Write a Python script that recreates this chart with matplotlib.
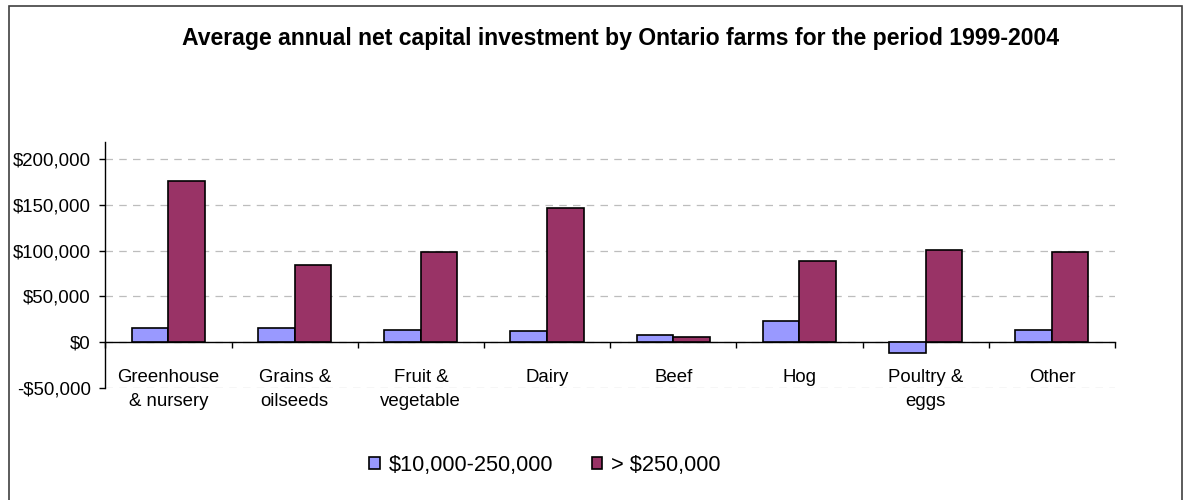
import matplotlib
matplotlib.use("Agg")
import matplotlib.pyplot as plt
from matplotlib.patches import Patch, Rectangle
from matplotlib.ticker import FuncFormatter, FixedLocator
import numpy as np

categories = ["Greenhouse\n& nursery", "Grains &\noilseeds", "Fruit &\nvegetable",
              "Dairy", "Beef", "Hog", "Poultry &\neggs", "Other"]
small_farms = [15300, 15300, 13100, 11700, 8000, 23700, -12000, 13500]
large_farms = [175600, 84500, 98400, 146000, 5800, 88900, 100900, 98400]
series_names = ["$10,000-250,000", "> $250,000"]
y_ticks = [-50000, 0, 50000, 100000, 150000, 200000]
title = "Average annual net capital investment by Ontario farms for the period 1999-2004"

color_small = "#9999FF"
color_large = "#993366"

plt.rcParams["font.family"] = ["Liberation Sans", "DejaVu Sans"]

W, H = 1183, 500
fig = plt.figure(figsize=(W / 100, H / 100), dpi=100)
fig.patch.set_facecolor("white")

ax = fig.add_axes([105.3 / W, 1 - 388 / H, (1115 - 105.3) / W, (388 - 142) / H])

x = np.arange(len(categories))
bw = 0.29
ax.bar(x - bw / 2, small_farms, width=bw, color=color_small, edgecolor="black",
       linewidth=1.2, zorder=3)
ax.bar(x + bw / 2, large_farms, width=bw, color=color_large, edgecolor="black",
       linewidth=1.2, zorder=3)

ax.set_xlim(-0.5, len(categories) - 0.5)
ax.set_ylim(-50000, 218600)
ax.set_yticks(y_ticks)
ax.yaxis.set_major_formatter(FuncFormatter(
    lambda v, p: ("-$" if v < 0 else "$") + f"{abs(int(v)):,}"))

ax.grid(axis="y", color="#bdbdbd", linestyle=(0, (6, 5)), linewidth=0.9, zorder=0)
ax.set_axisbelow(True)

for side in ("top", "right"):
    ax.spines[side].set_visible(False)
ax.spines["bottom"].set_position(("data", 0))
ax.spines["bottom"].set_linewidth(1.0)
ax.spines["left"].set_linewidth(1.0)

ax.set_xticks(x)
ax.set_xticklabels(categories, fontsize=13.4, linespacing=1.55)
ax.xaxis.set_minor_locator(FixedLocator(np.arange(-0.5, len(categories), 1.0)))
ax.tick_params(axis="x", which="major", length=0, pad=19.5)
ax.tick_params(axis="x", which="minor", length=4, width=1.0, direction="out")
ax.tick_params(axis="y", length=4, width=1.0, labelsize=13.4, pad=6.5)

fig.text(621 / W, 1 - 38 / H, title, ha="center", va="center",
         fontsize=16.6, fontweight="bold")

handles = [Patch(facecolor=color_small, edgecolor="black", linewidth=1.2),
           Patch(facecolor=color_large, edgecolor="black", linewidth=1.2)]
fig.legend(handles, series_names, loc="center", bbox_to_anchor=(545 / W, 1 - 465 / H),
           ncol=2, frameon=False, fontsize=15.7, handlelength=0.5, handleheight=0.5,
           handletextpad=0.4, columnspacing=1.75)

fig.add_artist(Rectangle((9 / W, -0.02), (1182 - 9) / W, 1.02 - 6 / H,
                         transform=fig.transFigure, fill=False,
                         edgecolor="#404040", linewidth=1.2))

fig.savefig("out.png", dpi=100, facecolor="white")
